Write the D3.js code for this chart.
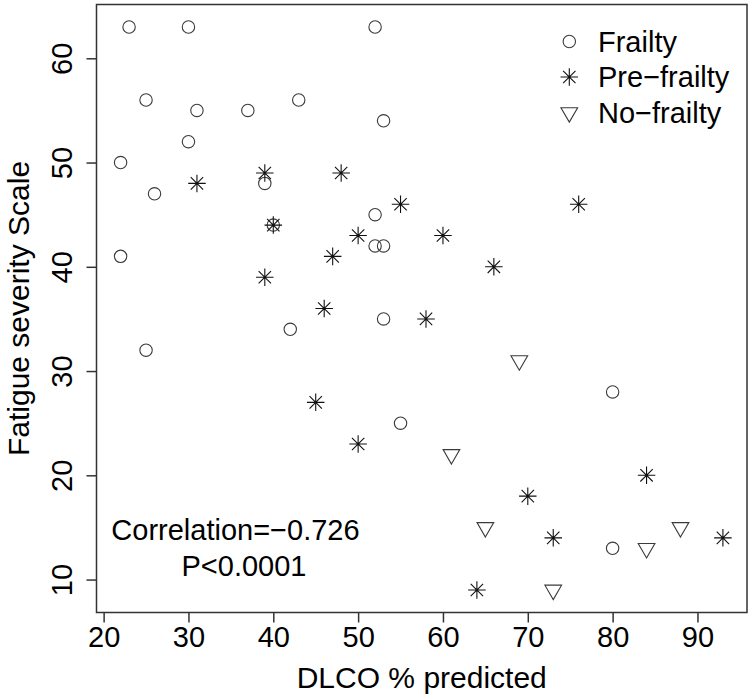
<!DOCTYPE html>
<html>
<head>
<meta charset="utf-8">
<script src="https://cdn.jsdelivr.net/npm/d3@7"></script>
<style>
  html, body { margin: 0; padding: 0; background: #fff; }
  svg { display: block; }
  text { font-family: "Liberation Sans", Arial, Helvetica, sans-serif; fill: #000; }
</style>
</head>
<body>
<svg id="chart" width="750" height="695"></svg>
<script>
// ---- data ----
const frailtyX = [23, 30, 52, 25, 31, 37, 43, 53, 30, 22, 26, 39, 40, 22, 52, 52, 53, 42, 53, 25, 55, 80, 80];
const frailtyY = [63, 63, 63, 56, 55, 55, 56, 54, 52, 50, 47, 48, 44, 41, 45, 42, 42, 34, 35, 32, 25, 28, 13];
const preFrailtyX = [31, 39, 48, 40, 47, 50, 39, 46, 55, 60, 66, 76, 58, 45, 50, 70, 73, 84, 93, 64];
const preFrailtyY = [48, 49, 49, 44, 41, 43, 39, 36, 46, 43, 40, 46, 35, 27, 23, 18, 14, 20, 14, 9];
const noFrailtyX = [69, 61, 65, 88, 84, 73];
const noFrailtyY = [31, 22, 15, 15, 13, 9];
const xTicks = [20, 30, 40, 50, 60, 70, 80, 90];
const yTicks = [10, 20, 30, 40, 50, 60];
const legendLabels = ["Frailty", "Pre\u2212frailty", "No\u2212frailty"];
const xTitle = "DLCO % predicted";
const yTitle = "Fatigue severity Scale";
const annotation = ["Correlation=\u22120.726", "P<0.0001"];

// ---- layout ----
const svg = d3.select("#chart");
const L = 96.5, R = 747, T = 4.5, B = 612.5;
// R-style 4% domain extension
function ext(vals) {
  const mn = d3.min(vals), mx = d3.max(vals), p = (mx - mn) * 0.04;
  return [mn - p, mx + p];
}
const allX = frailtyX.concat(preFrailtyX, noFrailtyX);
const allY = frailtyY.concat(preFrailtyY, noFrailtyY);
const x = d3.scaleLinear().domain(ext(allX)).range([L, R]);
const y = d3.scaleLinear().domain(ext(allY)).range([B, T]);

const axisColor = "#333";
const markColor = "#3a3a3a";
const starColor = "#111";
const rad = 6.2;

// axes
const gx = svg.append("g").attr("transform", `translate(0,${B})`)
  .call(d3.axisBottom(x).tickValues(xTicks).tickSize(10).tickFormat(d3.format("d")));
gx.select(".domain").remove();
gx.selectAll(".tick line").attr("stroke", axisColor).attr("stroke-width", 1.5);
gx.selectAll(".tick text").attr("y", 34.5).attr("dy", 0)
  .style("font-size", "29px").attr("fill", "#000");

const gy = svg.append("g").attr("transform", `translate(${L},0)`)
  .call(d3.axisLeft(y).tickValues(yTicks).tickSize(10).tickFormat(d3.format("d")));
gy.select(".domain").remove();
gy.selectAll(".tick line").attr("stroke", axisColor).attr("stroke-width", 1.5);
gy.selectAll(".tick text").attr("x", 0).attr("y", 0).attr("dy", 0)
  .attr("text-anchor", "middle")
  .attr("transform", "translate(-25,0) rotate(-90)")
  .style("font-size", "29px").attr("fill", "#000");

// box
svg.append("rect").attr("x", L).attr("y", T).attr("width", R - L).attr("height", B - T)
  .attr("fill", "none").attr("stroke", axisColor).attr("stroke-width", 1.5);

// titles
svg.append("text").attr("x", (L + R) / 2).attr("y", 688).attr("text-anchor", "middle")
  .style("font-size", "30px").text(xTitle);
svg.append("text").attr("transform", `translate(29,${(T + B) / 2}) rotate(-90)`)
  .attr("text-anchor", "middle").style("font-size", "30px").text(yTitle);

// symbol drawers
function drawCircle(g, cx, cy) {
  g.append("circle").attr("cx", cx).attr("cy", cy).attr("r", rad)
    .attr("fill", "none").attr("stroke", markColor).attr("stroke-width", 1.1);
}
function drawStar(g, cx, cy) {
  const p = Math.SQRT2 * rad, q = rad;
  const path = `M${cx - p},${cy}L${cx + p},${cy}M${cx},${cy - p}L${cx},${cy + p}` +
    `M${cx - q},${cy - q}L${cx + q},${cy + q}M${cx - q},${cy + q}L${cx + q},${cy - q}`;
  g.append("path").attr("d", path).attr("fill", "none")
    .attr("stroke", starColor).attr("stroke-width", 1.1);
}
function drawTri(g, cx, cy) {
  const r = 1.5551 * rad, yc = 0.7776 * rad, xc = 1.3468 * rad;
  const path = `M${cx},${cy + r}L${cx + xc},${cy - yc}L${cx - xc},${cy - yc}Z`;
  g.append("path").attr("d", path).attr("fill", "none")
    .attr("stroke", markColor).attr("stroke-width", 1.1);
}

const pts = svg.append("g");
frailtyX.forEach((v, i) => drawCircle(pts, x(v), y(frailtyY[i])));
preFrailtyX.forEach((v, i) => drawStar(pts, x(v), y(preFrailtyY[i])));
noFrailtyX.forEach((v, i) => drawTri(pts, x(v), y(noFrailtyY[i])));

// legend
const leg = svg.append("g");
const legY = [41.5, 77, 112.5];
const legSym = [drawCircle, drawStar, drawTri];
legendLabels.forEach((lab, i) => {
  legSym[i](leg, 569.3, legY[i]);
  leg.append("text").attr("x", 598).attr("y", legY[i] + 10.3)
    .style("font-size", "29px").text(lab);
});

// annotation
svg.append("text").attr("x", 235.5).attr("y", 540).attr("text-anchor", "middle")
  .style("font-size", "29px").text(annotation[0]);
svg.append("text").attr("x", 244).attr("y", 576).attr("text-anchor", "middle")
  .style("font-size", "29px").text(annotation[1]);
</script>
</body>
</html>
